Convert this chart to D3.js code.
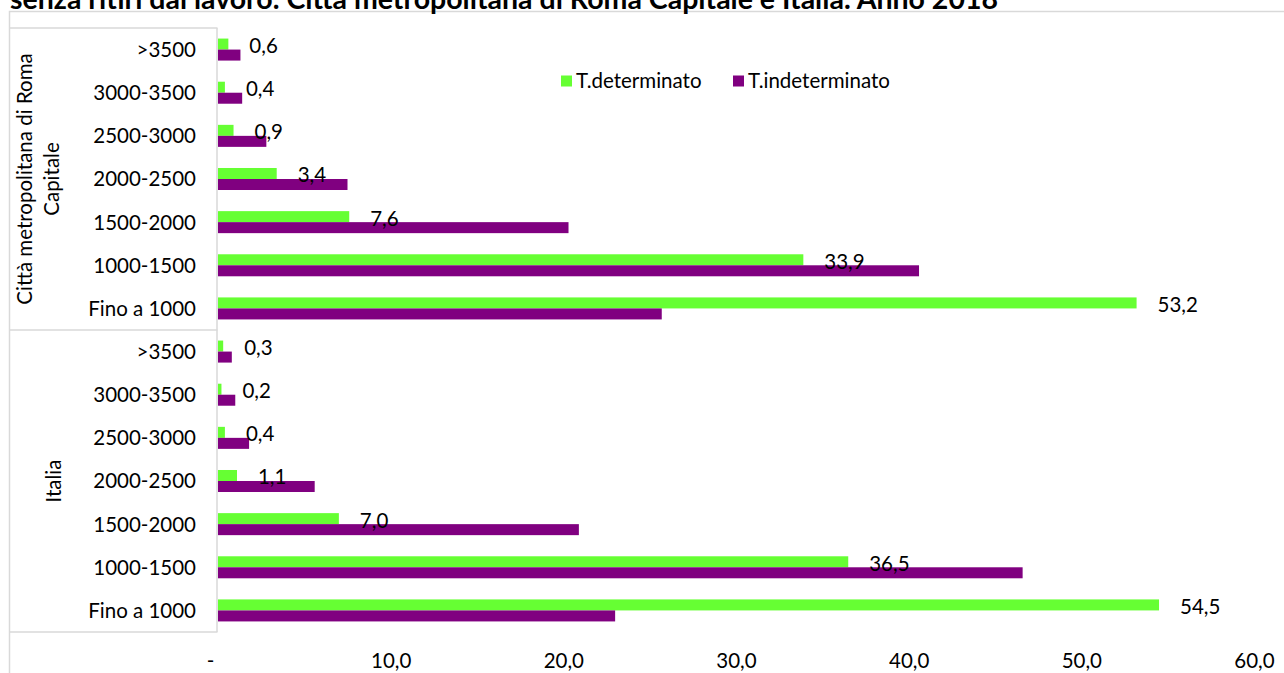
<!DOCTYPE html>
<html>
<head>
<meta charset="utf-8">
<script src="https://cdn.jsdelivr.net/npm/d3@7"></script>
<style>
  html, body { margin: 0; padding: 0; background: #fff; overflow: hidden; }
  svg { display: block; font-family: Lato, "Open Sans", sans-serif; }
</style>
</head>
<body>
<svg id="chart" width="1284" height="673"></svg>
<script>
// Reddito mensile netto (classi in euro) per tipo di contratto
const groups = ["Città metropolitana di Roma Capitale", "Italia"];
const groupLines = [["Città metropolitana di Roma", "Capitale"], ["Italia"]];
const classes = [">3500", "3000-3500", "2500-3000", "2000-2500", "1500-2000", "1000-1500", "Fino a 1000"];
const seriesNames = ["T.determinato", "T.indeterminato"];
const seriesColors = ["#66ff33", "#800080"];

// Valori percentuali, nell'ordine di "classes"
const romaDeterminato   = [0.6, 0.4, 0.9, 3.4, 7.6, 33.9, 53.2];
const romaIndeterminato = [1.3, 1.4, 2.8, 7.5, 20.3, 40.6, 25.7];
const italiaDeterminato   = [0.3, 0.2, 0.4, 1.1, 7.0, 36.5, 54.5];
const italiaIndeterminato = [0.8, 1.0, 1.8, 5.6, 20.9, 46.6, 23.0];

const xTicks = [0, 10, 20, 30, 40, 50, 60];
const titleText = "senza ritiri dal lavoro. Città metropolitana di Roma Capitale e Italia. Anno 2018";

const groupValues = [
  [romaDeterminato, romaIndeterminato],
  [italiaDeterminato, italiaIndeterminato]
];

const rows = [];
groups.forEach((g, gi) => {
  classes.forEach((c, ci) => {
    rows.push({
      key: g + "|" + c,
      group: g,
      cls: c,
      values: seriesNames.map((s, si) => ({ series: s, si, value: groupValues[gi][si][ci] }))
    });
  });
});

const svg = d3.select("#chart");
const gridColor = "#d9d9d9";
const fontSize = 20.5;

const x = d3.scaleLinear().domain([0, 60]).range([218, 1254]);
const y = d3.scaleBand().domain(rows.map(r => r.key)).range([28, 632]).padding(0);
const ySub = d3.scaleBand().domain(seriesNames).range([0, y.bandwidth()]).paddingInner(0).paddingOuter(0.96);

// Cornice dell'area del grafico
svg.append("rect")
  .attr("x", 9.5).attr("y", 11.5)
  .attr("width", 1300).attr("height", 700)
  .attr("fill", "none").attr("stroke", gridColor).attr("stroke-width", 1.5);

// Titolo (parzialmente fuori dall'area visibile)
svg.append("text")
  .attr("x", 10).attr("y", 8.5)
  .attr("font-weight", "bold")
  .attr("font-size", 28.5)
  .attr("fill", "#000")
  .text(titleText);

// Riquadri dell'asse delle categorie a due livelli
const axisG = svg.append("g");
const groupBounds = groups.map(g => {
  const keys = rows.filter(r => r.group === g).map(r => r.key);
  return { g, top: y(keys[0]), bottom: y(keys[keys.length - 1]) + y.bandwidth() };
});
const hLines = [groupBounds[0].top, ...groupBounds.map(b => b.bottom)];
axisG.selectAll("line.h").data(hLines).join("line")
  .attr("x1", 10).attr("x2", x(0) - 0.5)
  .attr("y1", d => d).attr("y2", d => d)
  .attr("stroke", gridColor).attr("stroke-width", 1.5);
axisG.append("line")
  .attr("x1", x(0) - 1).attr("x2", x(0) - 1)
  .attr("y1", hLines[0]).attr("y2", hLines[hLines.length - 1])
  .attr("stroke", gridColor).attr("stroke-width", 1.5);

// Etichette delle classi
svg.append("g").selectAll("text").data(rows).join("text")
  .attr("x", 196)
  .attr("y", d => y(d.key) + y.bandwidth() / 2)
  .attr("dy", "0.36em")
  .attr("text-anchor", "end")
  .attr("font-size", fontSize)
  .attr("fill", "#000")
  .text(d => d.cls);

// Etichette dei gruppi, ruotate
groupBounds.forEach((b, gi) => {
  const lines = groupLines[gi];
  const cy = (b.top + b.bottom) / 2;
  const baseX = lines.length === 1 ? [61] : [32, 59];
  lines.forEach((ln, li) => {
    svg.append("text")
      .attr("transform", `translate(${baseX[li]},${cy}) rotate(-90)`)
      .attr("text-anchor", "middle")
      .attr("font-size", fontSize)
      .attr("fill", "#000")
      .text(ln);
  });
});

// Barre
const rowG = svg.append("g").selectAll("g").data(rows).join("g")
  .attr("transform", d => `translate(0,${y(d.key)})`);
rowG.selectAll("rect").data(d => d.values).join("rect")
  .attr("x", x(0))
  .attr("y", d => ySub(d.series))
  .attr("width", d => x(d.value) - x(0))
  .attr("height", ySub.bandwidth())
  .attr("fill", d => seriesColors[d.si]);

// Etichette dei valori (serie a tempo determinato)
const fmt = v => d3.format(".1f")(v).replace(".", ",");
rowG.append("text")
  .attr("x", d => x(d.values[0].value) + 21)
  .attr("y", d => ySub(seriesNames[0]) + ySub.bandwidth() / 2 + 1.5)
  .attr("dy", "0.36em")
  .attr("font-size", fontSize)
  .attr("fill", "#000")
  .text(d => fmt(d.values[0].value));

// Asse dei valori
const xAxis = d3.axisBottom(x)
  .tickValues(xTicks)
  .tickSize(0)
  .tickFormat(v => v === 0 ? "-" : fmt(v));
const xg = svg.append("g").attr("transform", "translate(0,650)").call(xAxis);
xg.select(".domain").remove();
xg.selectAll("text")
  .attr("font-size", fontSize)
  .attr("font-family", "Lato, 'Open Sans', sans-serif")
  .attr("fill", "#000")
  .attr("dx", v => v === 0 ? -8 : 0);

// Legenda
const legend = svg.append("g").attr("transform", "translate(561,81)");
const legendX = [0, 172];
seriesNames.forEach((s, i) => {
  const lg = legend.append("g").attr("transform", `translate(${legendX[i]},0)`);
  lg.append("rect").attr("x", 0).attr("y", -5.5).attr("width", 11).attr("height", 11).attr("fill", seriesColors[i]);
  lg.append("text").attr("x", 15).attr("dy", "0.36em").attr("font-size", fontSize).attr("fill", "#000").text(s);
});
</script>
</body>
</html>
